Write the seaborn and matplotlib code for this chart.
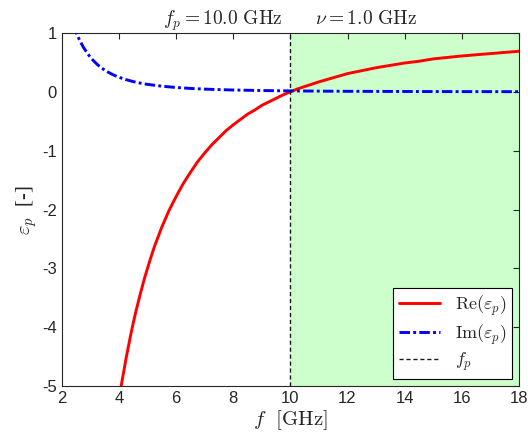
import matplotlib
matplotlib.use("Agg")
import matplotlib.pyplot as plt
import seaborn as sns
import pandas as pd

# values
f_re = [4.0, 4.1, 4.25, 4.4, 4.5, 4.6, 4.75, 4.9, 5.0, 5.1, 5.25, 5.5, 5.75, 6.0,
        6.25, 6.5, 6.75, 7.0, 7.25, 7.5, 7.75, 8.0, 8.25, 8.5, 8.75, 9.0, 9.25,
        9.5, 9.75, 10.0, 10.25, 10.5, 10.75, 11.0, 11.5, 12.0, 12.5, 13.0, 13.5,
        14.0, 14.5, 15.0, 16.0, 17.0, 18.0]
re_eps = [-5.24, -4.94, -4.53, -4.16, -3.93, -3.72, -3.43, -3.16, -3.00, -2.84,
          -2.62, -2.30, -2.02, -1.78, -1.56, -1.37, -1.19, -1.04, -0.90, -0.78,
          -0.66, -0.56, -0.47, -0.38, -0.31, -0.23, -0.17, -0.11, -0.05, 0.00,
          0.05, 0.09, 0.13, 0.17, 0.24, 0.31, 0.36, 0.41, 0.45, 0.49, 0.52, 0.56,
          0.61, 0.65, 0.69]

f_im = [2.4, 2.5, 2.6, 2.75, 2.9, 3.0, 3.1, 3.25, 3.4, 3.5, 3.6, 3.75, 3.9, 4.0,
        4.25, 4.5, 4.75, 5.0, 5.5, 6.0, 6.5, 7.0, 7.5, 8.0, 9.0, 10.0, 11.0,
        12.0, 14.0, 16.0, 18.0]
im_eps = [1.146, 1.014, 0.902, 0.763, 0.651, 0.588, 0.533, 0.462, 0.404, 0.370,
          0.340, 0.301, 0.268, 0.248, 0.207, 0.174, 0.148, 0.127, 0.096, 0.074,
          0.058, 0.046, 0.038, 0.031, 0.022, 0.016, 0.012, 0.009, 0.006, 0.004,
          0.003]

fp = 10.0
f_min, f_max = 2, 18

df_re = pd.DataFrame({"f": f_re, "eps": re_eps})
df_im = pd.DataFrame({"f": f_im, "eps": im_eps})

sns.set_theme(style="white")
plt.rcParams["font.family"] = ["Liberation Sans", "DejaVu Sans"]
plt.rcParams["mathtext.fontset"] = "cm"
plt.rcParams["axes.unicode_minus"] = False

fig, ax = plt.subplots(figsize=(5.28, 4.46), dpi=100)
fig.subplots_adjust(left=0.117, right=0.983, bottom=0.1345, top=0.926)

# region above the plasma frequency
ax.axvspan(fp, f_max, color="#ccffcc", zorder=0, lw=0)

sns.lineplot(data=df_re, x="f", y="eps", ax=ax, color="red", lw=2.1,
             label=r"$\mathrm{Re}(\varepsilon_p)$", zorder=3)
sns.lineplot(data=df_im, x="f", y="eps", ax=ax, color="blue", lw=2.1,
             linestyle=(0, (3.6, 1.1, 1.0, 1.1)),
             label=r"$\mathrm{Im}(\varepsilon_p)$", zorder=3)
ax.axvline(fp, color="#1a1a1a", lw=1, linestyle=(0, (3, 2)), label=r"$f_p$", zorder=4)

ax.set_xlim(f_min, f_max)
ax.set_ylim(-5, 1)
ax.set_xticks(range(2, 19, 2))
ax.set_yticks(range(-5, 2))

ax.set_xlabel(r"$f\ \ [\mathrm{GHz}]$", fontsize=15, labelpad=2)
ax.set_ylabel(r"$\varepsilon_p$  [-]", fontsize=15, labelpad=2,
              family=["Liberation Serif", "DejaVu Serif"])
ax.set_title(r"$f_p = 10.0\ \mathrm{GHz}\qquad \nu = 1.0\ \mathrm{GHz}$",
             fontsize=14, pad=6)

for s in ax.spines.values():
    s.set_color("#262626")
    s.set_linewidth(0.8)
ax.tick_params(direction="in", length=4, width=0.8, color="#262626",
               top=True, right=True, labelsize=12, labelcolor="#262626")

leg = ax.legend(loc="lower right", fontsize=13, frameon=True, fancybox=False,
                edgecolor="black", framealpha=1, borderaxespad=0.4,
                handlelength=2.3, labelspacing=0.25, borderpad=0.3)
leg.get_frame().set_linewidth(0.8)

fig.savefig("out.png", dpi=100)
